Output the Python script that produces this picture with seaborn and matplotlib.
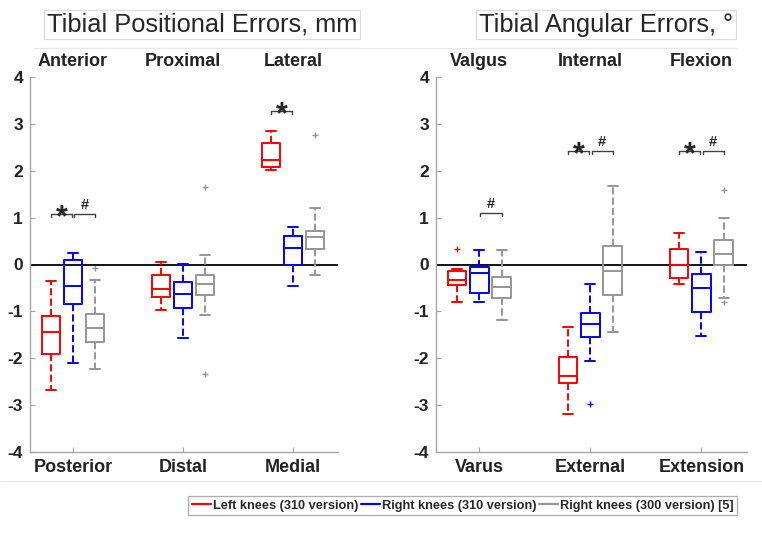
import numpy as np
import pandas as pd
import seaborn as sns
import matplotlib.pyplot as plt
from matplotlib.lines import Line2D
from matplotlib.transforms import blended_transform_factory

series_names = ["Left knees (310 version)", "Right knees (310 version)", "Right knees (300 version) [5]"]
series_colors = ["#ff0000", "#0000ff", "#969696"]

pos_top = ["Anterior", "Proximal", "Lateral"]
pos_bottom = ["Posterior", "Distal", "Medial"]
ang_top = ["Valgus", "Internal", "Flexion"]
ang_bottom = ["Varus", "External", "Extension"]

# box stats per direction: [whisker low, q1, median, q3, whisker high]
pos_left310 = [[-2.68, -1.91, -1.43, -1.09, -0.36], [-0.98, -0.70, -0.52, -0.22, 0.06], [2.01, 2.09, 2.22, 2.60, 2.85]]
pos_right310 = [[-2.10, -0.84, -0.46, 0.09, 0.25], [-1.57, -0.93, -0.63, -0.38, 0.01], [-0.45, -0.02, 0.36, 0.60, 0.79]]
pos_right300 = [[-2.22, -1.66, -1.35, -1.05, -0.34], [-1.08, -0.65, -0.42, -0.22, 0.21], [-0.23, 0.33, 0.58, 0.72, 1.20]]
pos_out_left310 = [[], [], []]
pos_out_right310 = [[], [], []]
pos_out_right300 = [[-0.07], [1.65, -2.33], [2.76]]

ang_left310 = [[-0.81, -0.43, -0.32, -0.14, -0.10], [-3.19, -2.52, -2.37, -1.97, -1.34], [-0.42, -0.28, 0.00, 0.34, 0.67]]
ang_right310 = [[-0.80, -0.60, -0.19, -0.06, 0.32], [-2.06, -1.55, -1.27, -1.04, -0.42], [-1.52, -1.02, -0.51, -0.21, 0.26]]
ang_right300 = [[-1.18, -0.72, -0.49, -0.26, 0.32], [-1.45, -0.65, -0.14, 0.39, 1.68], [-0.72, 0.00, 0.23, 0.52, 1.00]]
ang_out_left310 = [[0.34], [], []]
ang_out_right310 = [[], [-2.97], []]
ang_out_right300 = [[], [], [1.58, -0.81]]

# significance marks: (direction index, pair, symbol, bracket height)
pos_marks = [(0, "rb", "*", 1.08), (0, "bg", "#", 1.08), (2, "rb", "*", 3.28)]
ang_marks = [(0, "bg", "#", 1.10), (1, "rb", "*", 2.42), (1, "bg", "#", 2.42),
             (2, "rb", "*", 2.42), (2, "bg", "#", 2.42)]

offsets = [-0.2, 0.0, 0.2]

sns.set_style("ticks")
plt.rcParams["font.family"] = ["Liberation Sans", "DejaVu Sans"]
plt.rcParams["axes.unicode_minus"] = False


def draw_panel(ax, stats, outliers, top_labels, bottom_labels, marks):
    groups = np.arange(1, 4)
    for k, color in enumerate(series_colors):
        bstats = []
        for lo, q1, med, q3, hi in stats[k]:
            bstats.append(dict(whislo=lo, q1=q1, med=med, q3=q3, whishi=hi, fliers=[]))
        ax.bxp(bstats, positions=groups + offsets[k], widths=0.166, capwidths=0.09,
               showfliers=False, manage_ticks=False,
               boxprops=dict(color=color, lw=1.4),
               medianprops=dict(color=color, lw=1.4),
               whiskerprops=dict(color=color, lw=1.4, ls="--"),
               capprops=dict(color=color, lw=1.4))

    rows = []
    for k, name in enumerate(series_names):
        for i, vals in enumerate(outliers[k]):
            for v in vals:
                rows.append({"x": groups[i] + offsets[k], "y": v, "series": name})
    if rows:
        out_df = pd.DataFrame(rows)
        sns.scatterplot(data=out_df, x="x", y="y", hue="series",
                        palette=dict(zip(series_names, series_colors)),
                        marker="+", s=18, linewidth=1.0, legend=False, ax=ax)

    ax.axhline(0, color="black", lw=1.3, zorder=1)

    for g, pair, sym, h in marks:
        x = g + 1
        if pair == "rb":
            x0, x1 = x - 0.2, x - 0.01
        else:
            x0, x1 = x + 0.01, x + 0.2
        ax.plot([x0, x0, x1, x1], [h - 0.07, h, h, h - 0.07], color="#404040", lw=1.0)
        if sym == "*":
            ax.text((x0 + x1) / 2, h - 0.26, sym, ha="center", va="baseline",
                    fontsize=22, fontweight="bold")
        else:
            ax.text((x0 + x1) / 2, h + 0.11, sym, ha="center", va="baseline",
                    fontsize=10.5, fontweight="bold")

    ax.set_xlim(0.61, 3.41)
    ax.set_ylim(-4, 4)
    ax.set_yticks(np.arange(-4, 5, 1))
    ax.set_xticks(groups)
    ax.set_xticklabels(bottom_labels)
    ax.set_xlabel("")
    ax.set_ylabel("")
    ax.tick_params(axis="y", direction="in", length=3.5, pad=5, labelsize=12.5,
                   color="#a6a6a6", labelcolor="#222222")
    ax.tick_params(axis="x", direction="in", length=3.5, pad=5, labelsize=13,
                   color="#a6a6a6", labelcolor="#222222")
    for lbl in ax.get_xticklabels() + ax.get_yticklabels():
        lbl.set_fontweight("bold")
    sns.despine(ax=ax)
    for side in ["left", "bottom"]:
        ax.spines[side].set_color("#a6a6a6")
        ax.spines[side].set_linewidth(1.0)

    trans = blended_transform_factory(ax.transData, ax.transAxes)
    for i, lab in enumerate(top_labels):
        ax.text(groups[i], 1.0 + 16 / 375, lab, transform=trans, ha="center", va="center",
                fontsize=13, fontweight="bold", color="#222222")


fig = plt.figure(figsize=(7.62, 5.34), dpi=100)
ax_pos = fig.add_axes([30 / 762, 1 - 452 / 534, 308 / 762, 375 / 534])
ax_ang = fig.add_axes([436 / 762, 1 - 452 / 534, 311 / 762, 375 / 534])

draw_panel(ax_pos, [pos_left310, pos_right310, pos_right300],
           [pos_out_left310, pos_out_right310, pos_out_right300],
           pos_top, pos_bottom, pos_marks)
draw_panel(ax_ang, [ang_left310, ang_right310, ang_right300],
           [ang_out_left310, ang_out_right310, ang_out_right300],
           ang_top, ang_bottom, ang_marks)

title_box = dict(boxstyle="square,pad=0.1", facecolor="white", edgecolor="#dcdcdc", lw=0.8)
fig.text(202 / 762, 1 - 24.5 / 534, "Tibial Positional Errors, mm", ha="center", va="center",
         fontsize=18.3, bbox=title_box)
fig.text(606 / 762, 1 - 24.5 / 534, "Tibial Angular Errors, \u00b0", ha="center", va="center",
         fontsize=18.3, bbox=title_box)

# faint frame lines around the label rows
fig.add_artist(Line2D([33 / 762, 737 / 762], [1 - 48 / 534] * 2, color="#e8e8e8", lw=0.8))
fig.add_artist(Line2D([0, 1], [1 - 481 / 534] * 2, color="#e8e8e8", lw=0.8))

handles = [Line2D([0], [0], color=c, lw=1.6) for c in series_colors]
leg = fig.legend(handles, series_names, loc="center", bbox_to_anchor=(462.5 / 762, 1 - 505.5 / 534),
                 ncol=3, frameon=True, fancybox=False, edgecolor="#9a9a9a",
                 handlelength=1.5, handletextpad=0.15, columnspacing=0.2, borderpad=0.3,
                 prop={"size": 9.2, "weight": "bold"})
leg.get_frame().set_linewidth(0.9)

fig.savefig("out.png", dpi=100, facecolor="white")
